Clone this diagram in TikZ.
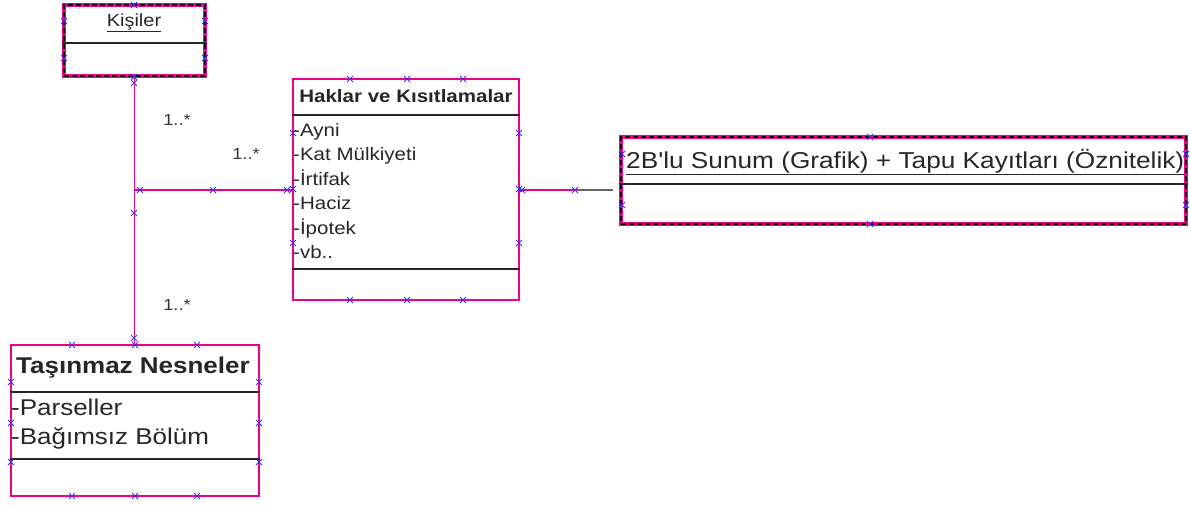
\documentclass[tikz,border=0pt]{standalone}
\usepackage{fontspec}
\setmainfont{Liberation Sans}
\newfontfamily\uf[FakeStretch=1.14]{Liberation Sans}
\begin{document}
\begin{tikzpicture}[x=1pt,y=-1pt,
  plainbox/.style={draw=magenta, line width=1.6pt, minimum width=#1, inner sep=0pt},
  dashbox/.style={draw=magenta, line width=4pt, inner sep=0pt,
     postaction={draw=black, line width=1.5pt, dash pattern=on 5pt off 3pt}},
  divider/.style={draw=black!85, line width=1.6pt},
  conn/.style={draw=magenta, line width=1.6pt},
  hnd/.style={draw=blue!80, line width=0.9pt},
  txt/.style={inner sep=0pt, text=black!85, font=\uf},
  mult/.style={inner sep=0pt, text=black!80, font=\uf\fontsize{16}{18}\selectfont}
]
\useasboundingbox (0,0) rectangle (1190,504);

% boxes
\node[dashbox, minimum width=141pt, minimum height=71pt] (kis) at (134.5,40.5) {};
\node[plainbox=226pt, minimum height=221pt] (hak) at (406,189.5) {};
\node[dashbox, minimum width=565pt, minimum height=87pt] (sun) at (903.5,180.5) {};
\node[plainbox=248pt, minimum height=151pt] (tas) at (135,420.5) {};

% dividers
\draw[divider] (kis.west |- 0,43) -- (kis.east |- 0,43);
\draw[divider] (hak.west |- 0,115) -- (hak.east |- 0,115);
\draw[divider] (hak.west |- 0,269) -- (hak.east |- 0,269);
\draw[divider] (sun.west |- 0,184) -- (sun.east |- 0,184);
\draw[divider] (tas.west |- 0,392) -- (tas.east |- 0,392);
\draw[divider] (tas.west |- 0,459) -- (tas.east |- 0,459);

% texts
\node[txt, font=\uf\fontsize{17.5}{19}\selectfont] (tkis) at (134,23) {\underline{Kişiler}};
\node[txt, font=\uf\bfseries\fontsize{18}{20}\selectfont] (thak) at (406,96) {Haklar ve Kısıtlamalar};
\node[txt, anchor=west, font=\uf\fontsize{18}{24.5}\selectfont, align=left] (ihak) at (293,191)
  {-Ayni\\-Kat Mülkiyeti\\-İrtifak\\-Haciz\\-İpotek\\-vb..};
\node[txt, anchor=west, font=\uf\fontsize{23}{25}\selectfont] (tsun) at (626,162)
  {\underline{2B'lu Sunum (Grafik) + Tapu Kayıtları (Öznitelik)}};
\node[txt, anchor=west, font=\uf\bfseries\fontsize{22.8}{25}\selectfont] (ttas) at (16,368) {Taşınmaz Nesneler};
\node[txt, anchor=west, font=\uf\fontsize{22.8}{29.5}\selectfont, align=left] (itas) at (11,424)
  {-Parseller\\-Bağımsız Bölüm};

% connectors
\coordinate (j) at (134,190);
\coordinate (e1) at (577,190);
\coordinate (e2) at (613,190);
\draw[conn] (kis.south) -- (kis.south |- tas.north);
\draw[conn] (j) -- (j -| hak.west);
\draw[conn] (hak.east |- j) -- (e1);
\draw[draw=black!60, line width=1.6pt] (e1) -- (e2);

% multiplicities
\node[mult] (m1) at (177,120) {1..*};
\node[mult] (m2) at (246,154) {1..*};
\node[mult] (m3) at (177,305) {1..*};

% handles
\foreach \x/\y in {134/5,134/77,134/83,64/21,64/58,205/21,205/58,
  350/79,407/79,463/79,350/300,407/300,463/300,293/133,293/189,293/243,519/133,519/189,519/243,
  140/190,213/190,287/190,134/213,134/338,522/190,575/190,
  870/137,870/224,622/154,622/205,1186/154,1186/205,
  72/345,135/345,197/345,72/496,135/496,197/496,11/382,11/423,11/462,259/382,259/423,259/462}
  \draw[hnd] (\x-3,\y-3) -- (\x+3,\y+3) (\x-3,\y+3) -- (\x+3,\y-3);
\end{tikzpicture}
\end{document}
